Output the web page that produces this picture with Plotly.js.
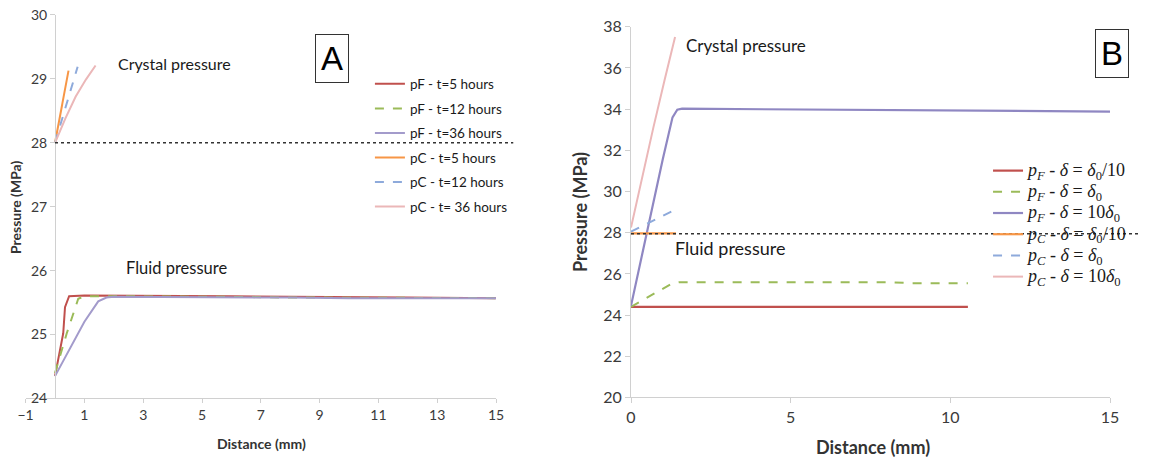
<!DOCTYPE html>
<html>
<head>
<meta charset="utf-8">
<script src="https://cdn.plot.ly/plotly-3.0.1.min.js"></script>
<style>html,body{margin:0;padding:0;background:#fff;}#chart{width:1156px;height:457px;}</style>
</head>
<body>
<div id="chart"></div>
<script>
// ---------- Panel A data (Distance mm, Pressure MPa) ----------
const aNames = ["pF - t=5 hours", "pF - t=12 hours", "pF - t=36 hours", "pC - t=5 hours", "pC - t=12 hours", "pC - t= 36 hours"];
const aF5x  = [0, 0.28, 0.34, 0.48, 1, 2, 4, 6, 8, 10, 12, 15];
const aF5y  = [24.35, 25.02, 25.43, 25.6, 25.61, 25.61, 25.61, 25.6, 25.59, 25.58, 25.58, 25.57];
const aF12x = [0, 0.4, 0.79, 1.0, 2, 4, 6, 8, 10, 12, 15];
const aF12y = [24.4, 25.02, 25.56, 25.6, 25.6, 25.6, 25.59, 25.58, 25.58, 25.57, 25.57];
const aF36x = [0, 0.5, 1.0, 1.47, 1.75, 2, 4, 6, 8, 10, 12, 15];
const aF36y = [24.35, 24.78, 25.2, 25.52, 25.58, 25.59, 25.59, 25.58, 25.58, 25.57, 25.57, 25.57];
const aC5x  = [0, 0.46];
const aC5y  = [28, 29.13];
const aC12x = [0, 0.77];
const aC12y = [28, 29.19];
const aC36x = [0, 0.35, 0.7, 1.05, 1.38];
const aC36y = [28, 28.38, 28.72, 28.99, 29.21];
const aRefLevel = 28;
const aXTicks = [-1, 1, 3, 5, 7, 9, 11, 13, 15];
const aYTicks = [24, 25, 26, 27, 28, 29, 30];

// ---------- Panel B data ----------
const bNames = [
  "<i>p</i><sub><i>F</i></sub> - <i>δ</i> = <i>δ</i><sub>0</sub>/10",
  "<i>p</i><sub><i>F</i></sub> - <i>δ</i> = <i>δ</i><sub>0</sub>",
  "<i>p</i><sub><i>F</i></sub> - <i>δ</i> = 10<i>δ</i><sub>0</sub>",
  "<i>p</i><sub><i>C</i></sub> - <i>δ</i> = <i>δ</i><sub>0</sub>/10",
  "<i>p</i><sub><i>C</i></sub> - <i>δ</i> = <i>δ</i><sub>0</sub>",
  "<i>p</i><sub><i>C</i></sub> - <i>δ</i> = 10<i>δ</i><sub>0</sub>"
];
const bF01x = [0, 2, 4, 6, 8, 10.55];
const bF01y = [24.4, 24.4, 24.4, 24.4, 24.4, 24.4];
const bF1x  = [0, 0.5, 1.0, 1.3, 1.5, 4, 8, 8.8, 10.55];
const bF1y  = [24.4, 24.85, 25.3, 25.55, 25.6, 25.6, 25.6, 25.55, 25.55];
const bF10x = [0, 0.5, 1.0, 1.3, 1.45, 1.6, 4, 8, 12, 15];
const bF10y = [24.45, 28.05, 31.6, 33.6, 33.97, 34.02, 34.0, 33.95, 33.92, 33.88];
const bC01x = [0, 1.41];
const bC01y = [27.97, 27.97];
const bC1x  = [0, 1.4];
const bC1y  = [28.05, 29.13];
const bC10x = [0, 0.35, 0.7, 1.05, 1.38];
const bC10y = [28.25, 30.7, 33.1, 35.4, 37.5];
const bRefLevel = 27.95;
const bXTicks = [0, 5, 10, 15];
const bYTicks = [20, 22, 24, 26, 28, 30, 32, 34, 36, 38];

const C = {red:"#C0504D", green:"#9BBB59", purple:"#A39BCB", purpleB:"#8F87C2", orange:"#F79646", blue:"#8EAADB", pink:"#EBB7B8"};

function tr(x, y, name, color, dash, width, xa, ya, legend, grp){
  return {x:x, y:y, name:name, type:"scatter", mode:"lines",
    line:{color:color, dash:dash, width:width},
    xaxis:xa, yaxis:ya, legend:legend, legendgroup:grp, hoverinfo:"skip"};
}
function bl(s){ return '<span style="font-size:18px">' + s + '</span>'; }

const data = [
  tr(aF5x, aF5y, aNames[0], C.red, "solid", 2, "x", "y", "legend", "a1"),
  tr(aF12x, aF12y, aNames[1], C.green, "dash", 2, "x", "y", "legend", "a2"),
  tr(aF36x, aF36y, aNames[2], C.purple, "solid", 2, "x", "y", "legend", "a3"),
  tr(aC5x, aC5y, aNames[3], C.orange, "solid", 2, "x", "y", "legend", "a4"),
  tr(aC12x, aC12y, aNames[4], C.blue, "dash", 2, "x", "y", "legend", "a5"),
  tr(aC36x, aC36y, aNames[5], C.pink, "solid", 2, "x", "y", "legend", "a6"),
  tr(bF01x, bF01y, bl(bNames[0]), C.red, "solid", 2.2, "x2", "y2", "legend2", "b1"),
  tr(bF1x, bF1y, bl(bNames[1]), C.green, "dash", 2, "x2", "y2", "legend2", "b2"),
  tr(bF10x, bF10y, bl(bNames[2]), C.purpleB, "solid", 2.2, "x2", "y2", "legend2", "b3"),
  tr(bC01x, bC01y, bl(bNames[3]), C.orange, "solid", 2.2, "x2", "y2", "legend2", "b4"),
  tr(bC1x, bC1y, bl(bNames[4]), C.blue, "dash", 2, "x2", "y2", "legend2", "b5"),
  tr(bC10x, bC10y, bl(bNames[5]), C.pink, "solid", 2, "x2", "y2", "legend2", "b6")
];

const axCol = "#D0D0D0";
const tickFontA = {family:"Lato, 'Open Sans', sans-serif", size:14, color:"#3a3a3a"};
const tickFontB = {family:"Lato, 'Open Sans', sans-serif", size:16, color:"#3a3a3a"};
const txt = "Lato, 'Open Sans', sans-serif";

function ann(text, x, y, size, extra){
  const a = {text:text, xref:"paper", yref:"paper", x:x, y:y, xanchor:"center", yanchor:"middle",
    showarrow:false, font:{family:txt, size:size, color:"#1a1a1a"}};
  return Object.assign(a, extra || {});
}

const layout = {
  width:1156, height:457,
  margin:{l:0, r:0, t:0, b:0, autoexpand:false},
  paper_bgcolor:"#ffffff", plot_bgcolor:"rgba(0,0,0,0)",
  showlegend:true,
  xaxis:{domain:[0.02215, 0.42907], range:[-1, 15], anchor:"y",
    tickmode:"array", tickvals:aXTicks, ticks:"outside", ticklen:4, tickcolor:axCol,
    showline:true, linecolor:axCol, linewidth:1, showgrid:false, zeroline:false,
    tickfont:tickFontA, fixedrange:true},
  yaxis:{domain:[0.12801, 0.96718], range:[24, 30], anchor:"free", position:0.04758,
    tickmode:"array", tickvals:aYTicks, ticks:"outside", ticklen:5, tickcolor:axCol,
    showline:true, linecolor:axCol, linewidth:1, showgrid:false, zeroline:false,
    tickfont:tickFontA, fixedrange:true},
  xaxis2:{domain:[0.54585, 0.96021], range:[0, 15], anchor:"y2",
    tickmode:"array", tickvals:bXTicks, ticks:"outside", ticklen:5, tickcolor:axCol,
    showline:true, linecolor:axCol, linewidth:1, showgrid:false, zeroline:false,
    tickfont:tickFontB, fixedrange:true},
  yaxis2:{domain:[0.13020, 0.94158], range:[20, 38], anchor:"x2",
    tickmode:"array", tickvals:bYTicks, ticks:"outside", ticklen:5, tickcolor:axCol,
    showline:true, linecolor:axCol, linewidth:1, showgrid:false, zeroline:false,
    tickfont:tickFontB, fixedrange:true},
  legend:{x:0.320, y:0.8500, xanchor:"left", yanchor:"top", bgcolor:"rgba(0,0,0,0)",
    font:{family:txt, size:13.5, color:"#1a1a1a"},
    tracegroupgap:4, itemwidth:30, traceorder:"grouped"},
  legend2:{x:0.8547, y:0.6608, xanchor:"left", yanchor:"top", bgcolor:"rgba(0,0,0,0)",
    font:{family:"'Liberation Serif', 'DejaVu Serif', serif", size:14, color:"#1a1a1a"},
    tracegroupgap:0, itemwidth:30, traceorder:"grouped"},
  shapes:[
    {type:"line", xref:"paper", yref:"y", x0:0.04758, x1:0.4440, y0:aRefLevel, y1:aRefLevel,
     line:{color:"#333", width:1.5, dash:"dot"}},
    {type:"line", xref:"paper", yref:"y2", x0:0.54585, x1:0.9870, y0:bRefLevel, y1:bRefLevel,
     line:{color:"#333", width:1.5, dash:"dot"}}
  ],
  annotations:[
    ann("Crystal pressure", 0.1509, 0.8600, 16),
    ann("Fluid pressure", 0.1527, 0.4136, 16.5),
    ann("A", 0.2876, 0.8709, 33, {font:{family:"'Liberation Sans', Arial, sans-serif", size:33, color:"#000"},
      bordercolor:"#333", borderwidth:1, borderpad:5, bgcolor:"#fff"}),
    ann("<b>Distance (mm)</b>", 0.2258, 0.0295, 14, {font:{family:txt, size:14, color:"#333"}}),
    ann("<b>Pressure (MPa)</b>", 0.0130, 0.547, 14, {textangle:-90, font:{family:txt, size:14, color:"#333"}}),
    ann("Crystal pressure", 0.6453, 0.9015, 17),
    ann("Fluid pressure", 0.6315, 0.4580, 18),
    ann("B", 0.9619, 0.884, 33, {font:{family:"'Liberation Sans', Arial, sans-serif", size:33, color:"#000"},
      bordercolor:"#333", borderwidth:1, borderpad:5, bgcolor:"#fff"}),
    ann("<b>Distance (mm)</b>", 0.7552, 0.0225, 18, {font:{family:txt, size:18, color:"#333"}}),
    ann("<b>Pressure (MPa)</b>", 0.5017, 0.536, 18, {textangle:-90, font:{family:txt, size:18, color:"#333"}})
  ]
};

Plotly.newPlot("chart", data, layout, {staticPlot:true, displayModeBar:false});
</script>
</body>
</html>
